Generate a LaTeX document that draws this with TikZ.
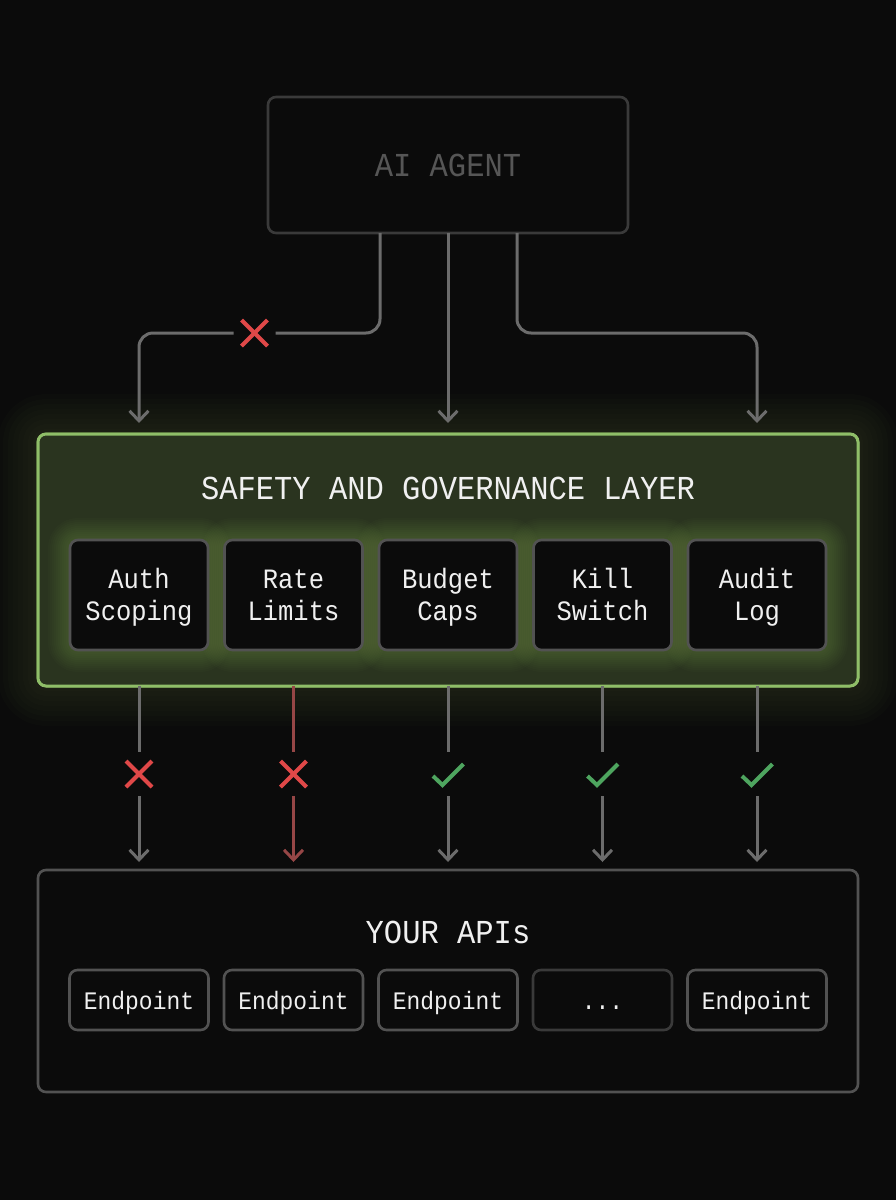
\documentclass[tikz,border=0pt]{standalone}
\usepackage{fontspec}
\setmonofont[FakeStretch=0.91]{Liberation Mono}
\usetikzlibrary{arrows.meta}
\definecolor{bgcol}{RGB}{11,11,11}
\definecolor{wirecol}{RGB}{108,108,108}
\definecolor{edgecol}{RGB}{82,82,82}
\definecolor{dimcol}{RGB}{58,58,58}
\definecolor{agentcol}{RGB}{86,86,86}
\definecolor{redcol}{RGB}{224,72,72}
\definecolor{redwire}{RGB}{150,70,70}
\definecolor{greencol}{RGB}{78,165,95}
\definecolor{layercol}{RGB}{143,190,104}
\definecolor{layerfill}{RGB}{42,52,31}
\definecolor{glowcol}{RGB}{135,170,85}
\definecolor{textcol}{RGB}{240,240,240}
% soft halo round a named node
\newcommand{\halo}[4]{%
  \foreach \w in {#2,...,#3}
    \draw[glowcol, line width=\w pt, opacity=#4, rounded corners=8pt, line join=round]
      (#1.north west) rectangle (#1.south east);
}
% two lines of a card, same baselines in every card
\newcommand{\cardtext}[2]{\rule{0pt}{25pt}#1\\#2\rule[-7pt]{0pt}{7pt}}
\begin{document}
\begin{tikzpicture}[x=1pt, y=-1pt, node distance=154.5pt, >={Straight Barb[length=10pt,width=19pt]},
    box/.style={draw, rectangle, rounded corners=8pt, line width=2.6pt, outer sep=0pt, align=center, text=textcol, font=\ttfamily},
    guard/.style={box, draw=edgecol, fill=bgcol, minimum width=138pt, minimum height=110pt, font=\ttfamily\fontsize{28}{32}\selectfont},
    endpoint/.style={box, draw=edgecol, fill=bgcol, minimum width=139pt, minimum height=60pt, text height=18pt, text depth=0pt, font=\ttfamily\fontsize{25.2}{28}\selectfont},
    heading/.style={text=textcol, font=\ttfamily\fontsize{33.5}{36}\selectfont, inner sep=0pt, text height=22pt, text depth=0pt},
    wire/.style={draw=wirecol, line width=3pt, rounded corners=14pt},
    nomark/.style={minimum width=42pt, minimum height=44pt, inner sep=0pt, outer sep=0pt, path picture={
      \draw[redcol, line width=4pt] ([shift={(-13pt,13pt)}]path picture bounding box.center) -- ++(26,26);
      \draw[redcol, line width=4pt] ([shift={(13pt,13pt)}]path picture bounding box.center) -- ++(-26,26);}},
    okmark/.style={minimum width=42pt, minimum height=44pt, inner sep=0pt, outer sep=0pt, path picture={
      \draw[greencol, line width=4pt] ([shift={(-15pt,-2pt)}]path picture bounding box.center)
        -- ++(9.5,9) -- ++(21,-21);}}]
    \fill[bgcol] (0,0) rectangle (896,1200);
    \useasboundingbox (0,0) rectangle (896,1200);
    % top box
    \node[box, draw=dimcol, minimum width=360pt, minimum height=136pt, text=agentcol, text height=23pt, text depth=0pt, font=\ttfamily\fontsize{33.5}{36}\selectfont] (agent) at (448,165) {AI AGENT};
    % layer panel with its halo
    \node[box, draw=layercol, minimum width=820pt, minimum height=252pt] (layer) at (448,560) {};
    \halo{layer}{10,20}{80}{0.02}
    \node[box, draw=layercol, line width=3pt, fill=layerfill, minimum width=820pt, minimum height=252pt] at (448,560) {};
    \node[heading] (layertitle) at (448,488) {SAFETY AND GOVERNANCE LAYER};
    \node[guard, draw=none, fill=none] (auth) at (139,595) {};
    \node[guard, draw=none, fill=none] (rate)   [right of=auth]   {};
    \node[guard, draw=none, fill=none] (budget) [right of=rate]   {};
    \node[guard, draw=none, fill=none] (kill)   [right of=budget] {};
    \node[guard, draw=none, fill=none] (audit)  [right of=kill]   {};
    \halo{auth}{4,8}{44}{0.03}
    \halo{rate}{4,8}{44}{0.03}
    \halo{budget}{4,8}{44}{0.03}
    \halo{kill}{4,8}{44}{0.03}
    \halo{audit}{4,8}{44}{0.03}
    \node[guard] at (auth)   {\cardtext{Auth}{Scoping}};
    \node[guard] at (rate)   {\cardtext{Rate}{Limits}};
    \node[guard] at (budget) {\cardtext{Budget}{Caps}};
    \node[guard] at (kill)   {\cardtext{Kill}{Switch}};
    \node[guard] at (audit)  {\cardtext{Audit}{Log}};
    % bottom box
    \node[box, draw=edgecol, minimum width=820pt, minimum height=222pt] (api) at (448,981) {};
    \node[heading] (apititle) at (448,932) {YOUR APIs};
    \node[endpoint] (ep1) at (139,1000) {Endpoint};
    \node[endpoint] (ep2) [right of=ep1] {Endpoint};
    \node[endpoint] (ep3) [right of=ep2] {Endpoint};
    \node[endpoint, draw=dimcol] (ep4) [right of=ep3] {...};
    \node[endpoint] (ep5) [right of=ep4] {Endpoint};
    % marks
    \node[nomark] (xagent) at (254.5,333) {};
    \node[nomark] (xauth)  at (139,774) {};
    \node[nomark] (xrate)  [right of=xauth] {};
    \node[okmark] (okbudget) [right of=xrate] {};
    \node[okmark] (okkill)   [right of=okbudget] {};
    \node[okmark] (okaudit)  [right of=okkill] {};
    % agent to layer
    \draw[wire] ([xshift=-68pt]agent.south) |- (xagent);
    \draw[wire, ->, shorten >=11pt] (xagent) -| (auth |- layer.north);
    \draw[wire, ->, shorten >=11pt] (agent.south) -- (budget |- layer.north);
    \draw[wire, ->, shorten >=11pt] ([xshift=69pt]agent.south) -- ++(0,100) -| (audit |- layer.north);
    % layer to apis
    \path[wire]
          (auth |- layer.south)   edge (xauth)
          (budget |- layer.south) edge (okbudget)
          (kill |- layer.south)   edge (okkill)
          (audit |- layer.south)  edge (okaudit);
    \path[wire, ->, shorten >=8pt]
          (xauth)    edge (auth |- api.north)
          (okbudget) edge (budget |- api.north)
          (okkill)   edge (kill |- api.north)
          (okaudit)  edge (audit |- api.north);
    \draw[wire, draw=redwire] (rate |- layer.south) -- (xrate);
    \draw[wire, draw=redwire, ->, shorten >=8pt] (xrate) -- (rate |- api.north);
\end{tikzpicture}
\end{document}
